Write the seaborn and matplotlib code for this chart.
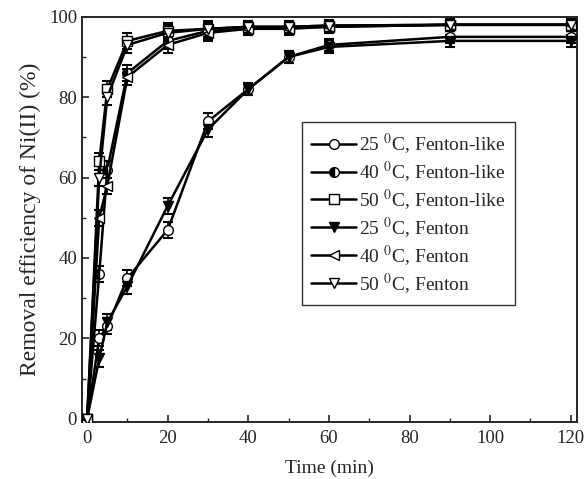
import numpy as np
import pandas as pd
import matplotlib
matplotlib.use("Agg")
import matplotlib.pyplot as plt
import seaborn as sns

# data
time_min = [0, 3, 5, 10, 20, 30, 40, 50, 60, 90, 120]

fl_25 = [0, 20, 23, 35, 47, 74, 82, 90, 93, 95, 95]
fl_40 = [0, 36, 62, 86, 94, 96.5, 97, 97.3, 97.5, 98, 98]
fl_50 = [0, 64, 82, 94, 96.5, 97, 97.5, 97.5, 97.8, 98, 98]
f_25 = [0, 15, 24, 33, 53, 72, 82, 90, 92.5, 94, 94]
f_40 = [0, 50, 58, 85, 93, 96, 97, 97, 97.5, 98, 98]
f_50 = [0, 60, 80, 93, 96, 97, 97.5, 97.5, 97.8, 98, 98]

err = [0, 2, 2, 2, 2, 2, 1.5, 1.5, 1.5, 1.5, 1.5]

labels = ["25 $^{0}$C, Fenton-like", "40 $^{0}$C, Fenton-like", "50 $^{0}$C, Fenton-like",
          "25 $^{0}$C, Fenton", "40 $^{0}$C, Fenton", "50 $^{0}$C, Fenton"]
series = [fl_25, fl_40, fl_50, f_25, f_40, f_50]

# marker styles
styles = [
    dict(marker="o", markerfacecolor="white"),
    dict(marker="o", markerfacecolor="black", fillstyle="left", markerfacecoloralt="white"),
    dict(marker="s", markerfacecolor="white"),
    dict(marker="v", markerfacecolor="black"),
    dict(marker="<", markerfacecolor="white"),
    dict(marker="v", markerfacecolor="white"),
]

sns.set_style("ticks")
plt.rcParams["font.family"] = ["Liberation Serif", "DejaVu Serif"]
plt.rcParams["mathtext.fontset"] = "stix"

fig = plt.figure(figsize=(5.85, 4.79), dpi=100)
ax = fig.add_axes([0.140, 0.119, 0.846, 0.846])

for lab, vals, st in zip(labels, series, styles):
    df = pd.DataFrame({"t": time_min, "y": vals})
    ax.errorbar(df["t"], df["y"], yerr=err, fmt="none", ecolor="black",
                elinewidth=1.2, capsize=3.5, capthick=1.5, zorder=2)
    sns.lineplot(data=df, x="t", y="y", ax=ax, color="black", linewidth=1.8,
                 markersize=7, markeredgecolor="black", markeredgewidth=1.0,
                 label=lab, zorder=3, **st)

ax.set_xlim(-1.3, 121.5)
ax.set_ylim(-0.8, 100)
ax.set_xticks(range(0, 121, 20))
ax.set_xticks(range(10, 121, 20), minor=True)
ax.set_yticks(range(0, 101, 20))
ax.set_yticks(range(10, 101, 20), minor=True)
ax.tick_params(direction="in", which="major", length=5, width=1.2, labelsize=13.5)
ax.tick_params(axis="x", which="major", pad=6)
ax.tick_params(direction="in", which="minor", length=3, width=1.0)
for sp in ax.spines.values():
    sp.set_linewidth(1.4)

ax.set_xlabel("Time (min)", fontsize=14, labelpad=9)
ax.set_ylabel("Removal efficiency of Ni(II) (%)", fontsize=17, labelpad=6)

leg = ax.legend(loc="upper left", bbox_to_anchor=(0.444, 0.741), borderaxespad=0,
                fontsize=14, frameon=True, fancybox=False, edgecolor="black",
                handlelength=2.3, handletextpad=0.15, labelspacing=0.15,
                borderpad=0.5)
leg.get_frame().set_linewidth(1.0)

fig.savefig("out.png", dpi=100)
